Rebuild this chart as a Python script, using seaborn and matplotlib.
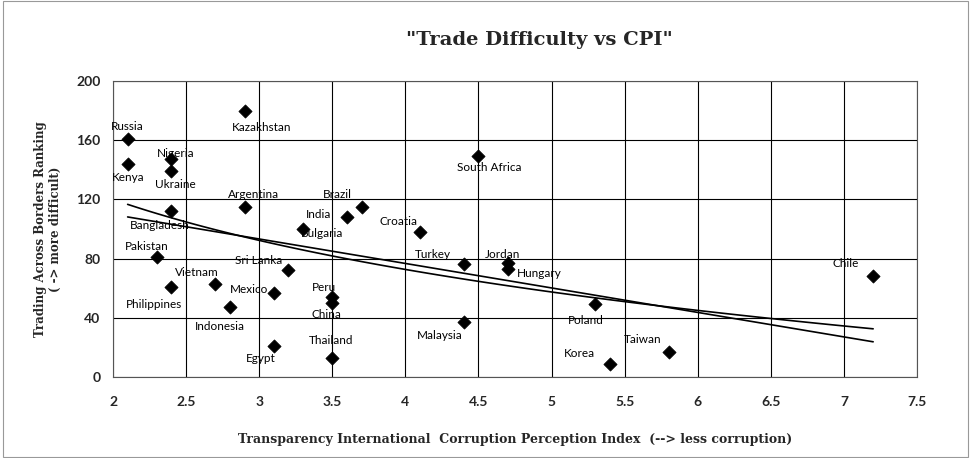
import numpy as np
import pandas as pd
import seaborn as sns
import matplotlib.pyplot as plt
from matplotlib.patches import Rectangle

countries = ["Russia", "Kenya", "Nigeria", "Ukraine", "Bangladesh", "Kazakhstan",
             "Argentina", "Pakistan", "Philippines", "Vietnam", "Indonesia", "Mexico",
             "Sri Lanka", "Egypt", "Bulgaria", "India", "Brazil", "Croatia",
             "South Africa", "Turkey", "Jordan", "Hungary", "Peru", "China",
             "Malaysia", "Thailand", "Poland", "Korea", "Taiwan", "Chile"]
cpi = [2.1, 2.1, 2.4, 2.4, 2.4, 2.9,
       2.9, 2.3, 2.4, 2.7, 2.8, 3.1,
       3.2, 3.1, 3.3, 3.6, 3.7, 4.1,
       4.5, 4.4, 4.7, 4.7, 3.5, 3.5,
       4.4, 3.5, 5.3, 5.4, 5.8, 7.2]
ranking = [161, 144, 147, 139, 112, 180,
           115, 81, 61, 63, 47, 57,
           72, 21, 100, 108, 115, 98,
           149, 76, 77, 73, 54, 50,
           37, 13, 49, 9, 17, 68]

# label offsets in pixels (dx, dy) relative to each marker
label_offsets = {
    "Russia": (0, 12), "Kenya": (1, -14), "Nigeria": (4, 6), "Ukraine": (4, -13),
    "Bangladesh": (-12, -14), "Kazakhstan": (17, -17), "Argentina": (9, 12),
    "Pakistan": (-10, 11), "Philippines": (-17, -18), "Vietnam": (-19, 11),
    "Indonesia": (-10, -19), "Mexico": (-25, 3), "Sri Lanka": (-30, 10),
    "Egypt": (-13, -13), "Bulgaria": (19, -5), "India": (-28, 3), "Brazil": (-24, 12),
    "Croatia": (-22, 10), "South Africa": (11, -11), "Turkey": (-31, 10),
    "Jordan": (-5, 9), "Hungary": (32, -5), "Peru": (-8, 10), "China": (-6, -12),
    "Malaysia": (-24, -13), "Thailand": (-1, 17), "Poland": (-10, -16),
    "Korea": (-31, 10), "Taiwan": (-26, 12), "Chile": (-27, 13),
}

df = pd.DataFrame({"country": countries, "cpi": cpi, "ranking": ranking})

sns.set_style("white")
plt.rcParams['font.family'] = ['Lato', 'DejaVu Sans']

fig = plt.figure(figsize=(9.71, 4.58), dpi=100)
ax = fig.add_axes([0.1164, 0.1769, 0.828, 0.6463])

# linear and logarithmic trend lines
sns.regplot(data=df, x="cpi", y="ranking", scatter=False, ci=None, ax=ax,
            color="black", line_kws={"lw": 1.2})
sns.regplot(data=df, x="cpi", y="ranking", scatter=False, ci=None, logx=True, ax=ax,
            color="black", line_kws={"lw": 1.2})
sns.scatterplot(data=df, x="cpi", y="ranking", marker="D", s=45, color="black",
                edgecolor="black", ax=ax, zorder=3)

for name, x, y in zip(countries, cpi, ranking):
    dx, dy = label_offsets[name]
    ax.annotate(name, (x, y), xytext=(dx, dy), textcoords="offset pixels",
                ha="center", va="center", fontsize=8.5, color="black")

ax.set_xlim(2, 7.5)
ax.set_ylim(0, 200)
ax.set_xticks(np.arange(2, 7.51, 0.5))
ax.set_xticklabels(["2", "2.5", "3", "3.5", "4", "4.5", "5", "5.5", "6", "6.5", "7", "7.5"])
ax.set_yticks(np.arange(0, 201, 40))
ax.tick_params(axis="both", labelsize=10, length=0)
ax.tick_params(axis="x", pad=14)
ax.tick_params(axis="y", pad=9)
for lab in ax.get_xticklabels() + ax.get_yticklabels():
    lab.set_fontweight("bold")
ax.grid(True, color="black", lw=0.8)
for sp in ax.spines.values():
    sp.set_color("#555555")
    sp.set_linewidth(0.8)

ax.set_xlabel("Transparency International  Corruption Perception Index  (--> less corruption)",
              family="DejaVu Serif", fontweight="bold", fontsize=9, labelpad=18)
ax.set_ylabel("Trading Across Borders Ranking\n( -> more difficult)",
              family="DejaVu Serif", fontweight="bold", fontsize=8.5, labelpad=10)
fig.text(0.555, 0.912, '"Trade Difficulty vs CPI"', family="DejaVu Serif",
         fontweight="bold", fontsize=14, ha="center", va="center")

fig.patches.append(Rectangle((0.003, 0.003), 0.994, 0.994, transform=fig.transFigure,
                             fill=False, edgecolor="#999999", lw=0.8))

fig.savefig("out.png", dpi=100)
